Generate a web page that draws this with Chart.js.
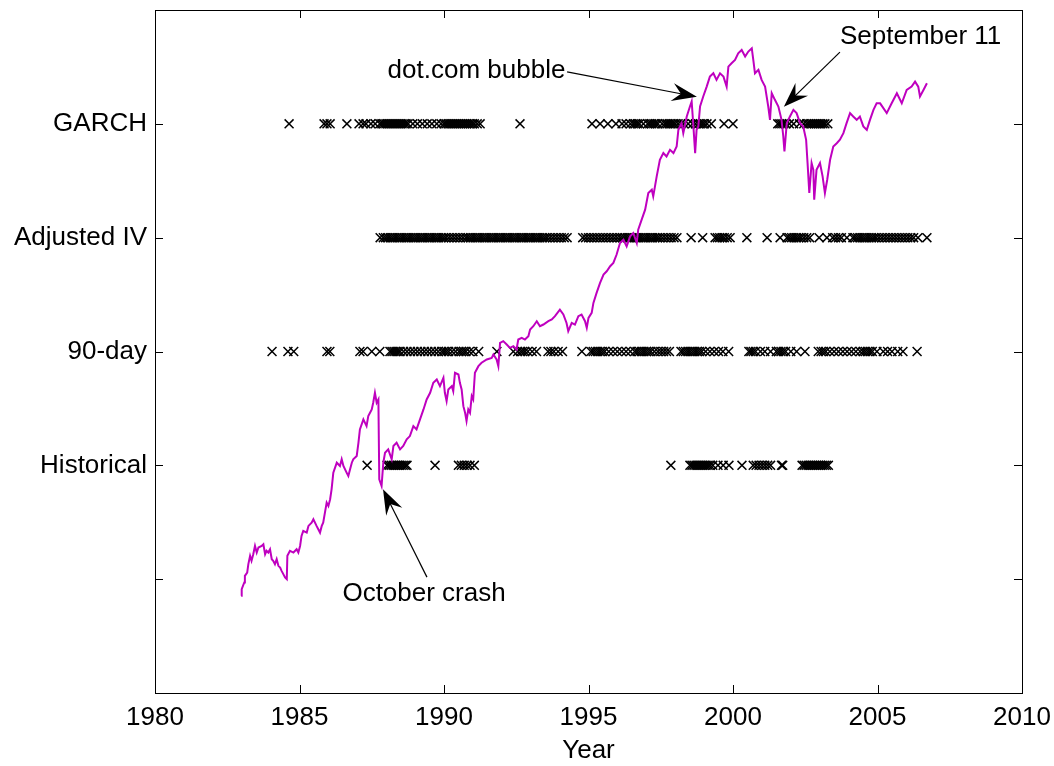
<!DOCTYPE html>
<html><head><meta charset="utf-8">
<script src="https://cdn.jsdelivr.net/npm/chart.js@4/dist/chart.umd.min.js"></script>
<style>html,body{margin:0;padding:0;background:#fff;}canvas{display:block;}</style>
</head><body>
<canvas id="c" width="1054" height="766"></canvas>
<script>
// ---- data ----
const yTickValues = [0, 1, 2, 3, 4];
const yTickLabels = ['', 'Historical', '90-day', 'Adjusted IV', 'GARCH'];
const xTickStep = 5;

// market index trace (year, value in axis units)
const lineYears = [1982.98,1983.00,1983.09,1983.11,1983.19,1983.23,1983.29,1983.34,1983.40,1983.46,1983.52,1983.58,1983.69,1983.75,1983.81,1983.86,1983.92,1983.98,1984.04,1984.09,1984.15,1984.21,1984.27,1984.33,1984.38,1984.44,1984.50,1984.56,1984.58,1984.67,1984.79,1984.90,1984.96,1985.02,1985.07,1985.13,1985.25,1985.31,1985.42,1985.48,1985.59,1985.65,1985.71,1985.77,1985.82,1985.88,1985.94,1986.00,1986.06,1986.11,1986.17,1986.29,1986.40,1986.46,1986.52,1986.63,1986.69,1986.75,1986.81,1986.86,1986.98,1987.04,1987.09,1987.21,1987.32,1987.38,1987.44,1987.50,1987.55,1987.61,1987.67,1987.73,1987.76,1987.84,1987.90,1987.96,1988.07,1988.19,1988.25,1988.36,1988.48,1988.59,1988.71,1988.82,1988.94,1989.05,1989.17,1989.29,1989.40,1989.52,1989.63,1989.75,1989.86,1989.98,1990.03,1990.09,1990.15,1990.27,1990.32,1990.38,1990.50,1990.55,1990.61,1990.67,1990.73,1990.78,1990.84,1990.90,1990.96,1991.01,1991.07,1991.19,1991.30,1991.48,1991.65,1991.71,1991.82,1991.88,1991.94,1992.05,1992.17,1992.28,1992.40,1992.51,1992.57,1992.69,1992.80,1992.92,1992.98,1993.09,1993.21,1993.32,1993.44,1993.61,1993.73,1993.84,1994.01,1994.13,1994.24,1994.30,1994.42,1994.53,1994.65,1994.76,1994.88,1994.94,1995.00,1995.11,1995.17,1995.28,1995.40,1995.52,1995.63,1995.75,1995.86,1995.97,1996.09,1996.21,1996.32,1996.44,1996.55,1996.67,1996.72,1996.84,1996.96,1997.07,1997.19,1997.24,1997.36,1997.47,1997.59,1997.70,1997.82,1997.94,1998.05,1998.11,1998.22,1998.28,1998.40,1998.51,1998.57,1998.63,1998.69,1998.74,1998.80,1998.86,1998.97,1999.09,1999.20,1999.32,1999.43,1999.55,1999.67,1999.78,1999.84,1999.95,2000.07,2000.18,2000.30,2000.42,2000.53,2000.65,2000.71,2000.76,2000.88,2000.99,2001.11,2001.22,2001.28,2001.34,2001.45,2001.57,2001.68,2001.74,2001.78,2001.86,2001.97,2002.09,2002.20,2002.32,2002.43,2002.53,2002.58,2002.64,2002.72,2002.78,2002.81,2002.89,2003.01,2003.10,2003.18,2003.26,2003.36,2003.47,2003.59,2003.70,2003.82,2003.93,2004.05,2004.16,2004.28,2004.39,2004.51,2004.63,2004.74,2004.86,2004.97,2005.09,2005.32,2005.49,2005.67,2005.84,2006.01,2006.18,2006.30,2006.41,2006.47,2006.59,2006.71];
const lineValues = [-0.146,-0.088,-0.029,0.029,0.058,0.132,0.205,0.161,0.219,0.292,0.234,0.278,0.292,0.307,0.219,0.249,0.234,0.263,0.175,0.161,0.132,0.175,0.117,0.102,0.073,0.044,0.015,0.0,0.205,0.249,0.234,0.263,0.234,0.292,0.380,0.424,0.409,0.468,0.497,0.526,0.468,0.439,0.409,0.468,0.497,0.585,0.673,0.643,0.702,0.789,0.936,1.023,0.994,1.053,0.994,0.936,0.906,0.965,1.023,1.053,1.082,1.199,1.316,1.404,1.345,1.433,1.462,1.491,1.550,1.637,1.550,1.579,0.877,0.819,1.023,1.111,1.140,1.053,1.170,1.199,1.140,1.170,1.228,1.257,1.345,1.316,1.404,1.491,1.579,1.637,1.725,1.754,1.696,1.769,1.637,1.564,1.667,1.696,1.652,1.813,1.798,1.725,1.667,1.520,1.462,1.389,1.491,1.462,1.608,1.579,1.813,1.871,1.901,1.930,1.944,1.974,1.930,1.871,2.076,2.091,2.061,2.032,2.047,2.018,2.105,2.120,2.105,2.135,2.193,2.222,2.266,2.222,2.237,2.266,2.281,2.310,2.368,2.325,2.251,2.178,2.251,2.237,2.310,2.325,2.266,2.208,2.295,2.339,2.427,2.515,2.602,2.675,2.705,2.749,2.778,2.850,2.953,2.982,2.924,3.012,3.041,2.953,3.070,3.158,3.246,3.392,3.421,3.363,3.538,3.684,3.743,3.713,3.772,3.743,3.801,3.947,4.006,3.918,4.064,4.152,4.196,3.977,3.743,3.947,3.977,4.152,4.240,4.327,4.415,4.444,4.386,4.444,4.415,4.327,4.503,4.532,4.561,4.620,4.649,4.591,4.635,4.664,4.547,4.444,4.474,4.386,4.327,4.152,4.035,4.269,4.211,4.152,4.035,3.889,3.757,4.006,4.064,4.123,4.094,4.006,3.977,3.860,3.655,3.392,3.655,3.596,3.333,3.596,3.655,3.538,3.392,3.509,3.684,3.801,3.830,3.860,3.918,4.006,4.094,4.064,4.035,4.064,3.977,3.947,4.035,4.123,4.181,4.180,4.094,4.181,4.269,4.181,4.298,4.327,4.371,4.327,4.240,4.298,4.357];

const garchYears = [1984.64,1985.85,1985.95,1986.06,1986.64,1987.06,1987.2,1987.3,1987.47,1987.62,1987.78,1987.85,1987.92,1987.99,1988.06,1988.13,1988.2,1988.27,1988.34,1988.41,1988.48,1988.55,1988.62,1988.69,1988.76,1988.92,1989.08,1989.25,1989.42,1989.58,1989.75,1989.9,1990.0,1990.07,1990.14,1990.21,1990.28,1990.35,1990.42,1990.49,1990.56,1990.63,1990.7,1990.77,1990.84,1990.91,1990.98,1991.05,1991.15,1991.25,1992.63,1995.12,1995.4,1995.67,1995.95,1996.16,1996.3,1996.45,1996.55,1996.62,1996.69,1996.76,1996.9,1997.05,1997.12,1997.19,1997.26,1997.33,1997.4,1997.55,1997.65,1997.72,1997.79,1997.86,1997.93,1998.0,1998.1,1998.2,1998.3,1998.45,1998.6,1998.7,1998.8,1998.87,1998.94,1999.01,1999.1,1999.25,1999.69,2000.0,2001.55,2001.62,2001.69,2001.76,2001.83,2001.95,2002.1,2002.3,2002.45,2002.55,2002.62,2002.69,2002.76,2002.83,2002.9,2002.97,2003.04,2003.11,2003.18,2003.28];
const adjIVYears = [1987.79,1987.9,1987.98,1988.06,1988.14,1988.22,1988.3,1988.38,1988.46,1988.54,1988.62,1988.7,1988.78,1988.86,1988.94,1989.02,1989.1,1989.18,1989.26,1989.34,1989.42,1989.5,1989.58,1989.66,1989.74,1989.82,1989.9,1989.98,1990.06,1990.16,1990.26,1990.36,1990.46,1990.56,1990.66,1990.76,1990.84,1990.92,1991.0,1991.08,1991.16,1991.24,1991.32,1991.4,1991.48,1991.56,1991.64,1991.72,1991.8,1991.88,1991.96,1992.04,1992.12,1992.2,1992.28,1992.36,1992.44,1992.52,1992.6,1992.68,1992.76,1992.84,1992.92,1993.0,1993.08,1993.16,1993.24,1993.32,1993.4,1993.48,1993.56,1993.66,1993.76,1993.86,1993.96,1994.06,1994.16,1994.26,1994.8,1994.9,1995.0,1995.1,1995.2,1995.3,1995.4,1995.5,1995.6,1995.7,1995.8,1995.9,1996.0,1996.1,1996.18,1996.26,1996.34,1996.42,1996.5,1996.58,1996.66,1996.74,1996.82,1996.9,1996.98,1997.06,1997.14,1997.22,1997.3,1997.38,1997.46,1997.56,1997.66,1997.76,1997.86,1997.96,1998.06,1998.55,1998.95,1999.38,1999.46,1999.54,1999.62,1999.7,1999.8,1999.9,2000.48,2001.18,2001.63,2001.87,2001.95,2002.03,2002.11,2002.19,2002.27,2002.35,2002.45,2002.55,2002.65,2002.98,2003.25,2003.45,2003.55,2003.65,2003.75,2003.94,2004.15,2004.23,2004.31,2004.39,2004.47,2004.55,2004.63,2004.71,2004.79,2004.87,2004.95,2005.05,2005.15,2005.25,2005.35,2005.45,2005.55,2005.65,2005.75,2005.85,2005.95,2006.05,2006.15,2006.25,2006.4,2006.71];
const day90Years = [1984.05,1984.6,1984.8,1985.95,1986.05,1987.09,1987.2,1987.5,1987.78,1988.13,1988.2,1988.27,1988.34,1988.41,1988.48,1988.6,1988.72,1988.84,1988.96,1989.08,1989.2,1989.32,1989.44,1989.56,1989.68,1989.8,1989.92,1990.0,1990.08,1990.16,1990.28,1990.4,1990.52,1990.6,1990.68,1990.76,1990.88,1991.0,1991.2,1991.83,1992.4,1992.55,1992.65,1992.72,1992.8,1992.9,1993.05,1993.2,1993.6,1993.7,1993.8,1993.95,1994.1,1994.77,1995.08,1995.16,1995.24,1995.32,1995.4,1995.48,1995.56,1995.7,1995.85,1996.0,1996.15,1996.3,1996.45,1996.6,1996.68,1996.76,1996.84,1996.92,1997.0,1997.08,1997.16,1997.28,1997.4,1997.5,1997.6,1997.7,1997.8,1998.2,1998.28,1998.36,1998.44,1998.52,1998.6,1998.68,1998.76,1998.84,1998.92,1999.05,1999.2,1999.35,1999.5,1999.65,1999.85,2000.55,2000.62,2000.7,2000.78,2000.95,2001.1,2001.3,2001.5,2001.58,2001.66,2001.74,2001.82,2002.0,2002.2,2002.49,2002.95,2003.05,2003.13,2003.21,2003.35,2003.5,2003.65,2003.8,2003.95,2004.1,2004.25,2004.4,2004.5,2004.58,2004.66,2004.74,2004.82,2004.98,2005.2,2005.35,2005.5,2005.7,2005.88,2006.37];
const histYears = [1987.34,1988.03,1988.1,1988.17,1988.24,1988.31,1988.38,1988.45,1988.52,1988.59,1988.66,1988.72,1989.69,1990.5,1990.6,1990.7,1990.8,1990.9,1991.05,1997.85,1998.51,1998.58,1998.65,1998.72,1998.79,1998.86,1998.93,1999.0,1999.07,1999.14,1999.21,1999.3,1999.48,1999.66,1999.86,2000.31,2000.7,2000.8,2000.9,2001.0,2001.1,2001.2,2001.3,2001.68,2001.72,2002.39,2002.46,2002.53,2002.6,2002.67,2002.74,2002.81,2002.88,2002.95,2003.02,2003.09,2003.16,2003.23,2003.3];

// annotations: label, text anchor (data units), arrow start, arrow tip
const annotations = [
  {text:'dot.com bubble', align:'right', tx:1994.2, ty:4.47, sx:1994.26, sy:4.456, ex:1998.75, ey:4.237},
  {text:'September 11', align:'left', tx:2003.70, ty:4.763, sx:2003.70, sy:4.63, ex:2001.76, ey:4.149},
  {text:'October crash', align:'center', tx:1989.31, ty:-0.13, sx:1989.41, sy:0.018, ex:1987.89, ey:0.789}
];

// ---- chart ----
const FONT = {family:'"Liberation Sans", Arial, sans-serif', size:26};
const pts = (years, row) => years.map(x => ({x, y: row}));
const lineData = lineYears.map((x, i) => ({x, y: lineValues[i]}));

const crossDs = (years, row) => ({
  type:'scatter', data: pts(years, row), pointStyle:'crossRot', pointRadius:6.3,
  borderColor:'#000', backgroundColor:'#000', pointBorderWidth:1.5, borderWidth:1.5
});

const frame = {
  id:'frame',
  afterDatasetsDraw(chart){
    const {ctx, chartArea:a, scales:{x, y}} = chart;
    ctx.save();
    ctx.strokeStyle = '#000'; ctx.lineWidth = 1;
    ctx.strokeRect(a.left + 0.5, a.top + 0.5, a.right - a.left, a.bottom - a.top);
    const L = 8;
    ctx.beginPath();
    x.ticks.forEach(t => {
      const p = Math.round(x.getPixelForValue(t.value)) + 0.5;
      ctx.moveTo(p, a.bottom); ctx.lineTo(p, a.bottom - L);
      ctx.moveTo(p, a.top); ctx.lineTo(p, a.top + L);
    });
    y.ticks.forEach(t => {
      const p = Math.round(y.getPixelForValue(t.value)) + 0.5;
      ctx.moveTo(a.left, p); ctx.lineTo(a.left + L, p);
      ctx.moveTo(a.right, p); ctx.lineTo(a.right - L, p);
    });
    ctx.stroke();

    // annotations
    ctx.font = FONT.size + 'px ' + FONT.family;
    ctx.fillStyle = '#000';
    ctx.textBaseline = 'middle';
    annotations.forEach(an => {
      ctx.textAlign = an.align;
      ctx.fillText(an.text, x.getPixelForValue(an.tx), y.getPixelForValue(an.ty));
      const sx = x.getPixelForValue(an.sx), sy = y.getPixelForValue(an.sy);
      const ex = x.getPixelForValue(an.ex), ey = y.getPixelForValue(an.ey);
      const dx = ex - sx, dy = ey - sy, len = Math.hypot(dx, dy);
      const ux = dx / len, uy = dy / len, nx = -uy, ny = ux;
      const HL = 25, HW = 18;
      ctx.beginPath();
      ctx.lineWidth = 1.2;
      ctx.moveTo(sx, sy); ctx.lineTo(ex - ux * HL * 0.6, ey - uy * HL * 0.6);
      ctx.stroke();
      ctx.beginPath();
      ctx.moveTo(ex, ey);
      ctx.lineTo(ex - ux * HL + nx * HW / 2, ey - uy * HL + ny * HW / 2);
      ctx.lineTo(ex - ux * HL * 0.65, ey - uy * HL * 0.65);
      ctx.lineTo(ex - ux * HL - nx * HW / 2, ey - uy * HL - ny * HW / 2);
      ctx.closePath();
      ctx.fill();
    });
    ctx.restore();
  }
};

const zeroPad = s => { s.paddingTop = 0; s.paddingBottom = 0; s.paddingLeft = 0; s.paddingRight = 0; };

new Chart(document.getElementById('c'), {
  type:'scatter',
  data:{datasets:[
    {type:'line', data:lineData, borderColor:'#bf00bf', borderWidth:2, pointRadius:0, tension:0, fill:false},
    crossDs(garchYears, 4),
    crossDs(adjIVYears, 3),
    crossDs(day90Years, 2),
    crossDs(histYears, 1)
  ]},
  options:{
    responsive:false, animation:false, devicePixelRatio:1,
    layout:{padding:{top:10, right:32, left:0, bottom:0}},
    plugins:{legend:{display:false}, tooltip:{enabled:false}},
    scales:{
      x:{type:'linear', position:'bottom', min:1980, max:2010,
        ticks:{stepSize:xTickStep, callback:v => String(v), font:FONT, color:'#000', padding:9, maxRotation:0},
        grid:{display:false, drawTicks:false}, border:{display:false},
        title:{display:true, text:'Year', font:FONT, color:'#000', padding:{top:0, bottom:0}},
        afterFit(s){ s.height = 73; zeroPad(s); }
      },
      y:{type:'linear', min:-1, max:5,
        afterBuildTicks(s){ s.ticks = yTickValues.map(v => ({value:v})); },
        ticks:{callback:(v) => yTickLabels[yTickValues.indexOf(v)] ?? '', font:FONT, color:'#000', padding:8},
        grid:{display:false, drawTicks:false}, border:{display:false},
        afterFit(s){ s.width = 155; zeroPad(s); }
      }
    }
  },
  plugins:[frame]
});
</script>
</body></html>
